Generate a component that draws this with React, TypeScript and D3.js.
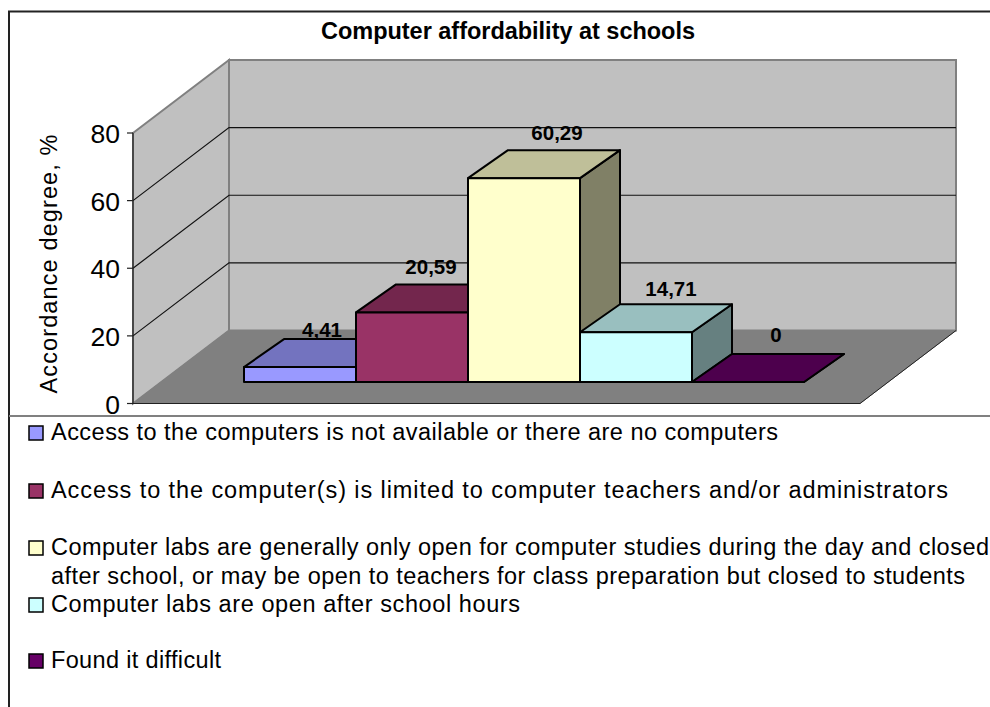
import React from "react";
import * as d3 from "d3";

const title = "Computer affordability at schools";
const axisTitle = "Accordance degree, %";
const values = [4.41, 20.59, 60.29, 14.71, 0];
const valueLabels = ["4,41", "20,59", "60,29", "14,71", "0"];
const yTicks = [0, 20, 40, 60, 80];
const fronts = ["#9999ff", "#993366", "#ffffcc", "#ccffff", "#660066"];
const tops = ["#7373bf", "#73264d", "#bfbf99", "#99bfbf", "#4d004d"];
const sides = ["#666699", "#662244", "#808066", "#668080", "#330033"];
const categories = ["a", "b", "c", "d", "e"];
const legendLines = [
  { text: "Access to the computers is not available or there are no computers", y: 440, w: 727, sw: 0 },
  { text: "Access to the computer(s) is limited to computer teachers and/or administrators", y: 498, w: 897, sw: 1 },
  { text: "Computer labs are generally only open for computer studies during the day and closed", y: 555, w: 938, sw: 2 },
  { text: "after school, or may be open to teachers for class preparation but closed to students", y: 584, w: 914, sw: -1 },
  { text: "Computer labs are open after school hours", y: 612, w: 469, sw: 3 },
  { text: "Found it difficult", y: 668, w: 170, sw: 4 },
];
const labelDx = [22, 19, 33, 35, 28];
const labelDy = [-2, -10, -10, -8, -12];

const font = "'Liberation Sans', Arial, sans-serif";
const y = d3.scaleLinear().domain([0, 80]).range([403.5, 133]);
const x = d3.scaleBand().domain(categories).range([244, 804]).paddingInner(0).paddingOuter(0);
const wallDx = 96, wallDy = -73, wallW = 727;
const barDx = 40, barDy = -28;
const barBase = 382;
const pts = (p: number[][]) => d3.line()(p as [number, number][]) + "Z";

export default function App() {
  const left = 133;
  return (
    <svg width={990} height={707} style={{ position: "absolute", left: 0, top: 0, background: "#fff" }} fontFamily={font}>
      <rect x={9} y={11.5} width={990} height={720} fill="#fff" stroke="#222" strokeWidth={2} />
      <text x={508} y={39} textAnchor="middle" fontWeight="bold" fontSize={23.5} fill="#000" textLength={374} lengthAdjust="spacing">{title}</text>

      {/* walls */}
      <path d={pts([[left, y(80)], [left + wallDx, y(80) + wallDy], [left + wallDx, y(0) + wallDy], [left, y(0)]])} fill="#c0c0c0" stroke="#808080" strokeWidth={2} />
      <path d={pts([[left + wallDx, y(80) + wallDy], [left + wallDx + wallW, y(80) + wallDy], [left + wallDx + wallW, y(0) + wallDy], [left + wallDx, y(0) + wallDy]])} fill="#c0c0c0" stroke="#808080" strokeWidth={2} />
      <path d={pts([[left, y(0)], [left + wallDx, y(0) + wallDy], [left + wallDx + wallW, y(0) + wallDy], [left + wallW, y(0)]])} fill="#808080" stroke="#808080" strokeWidth={1} />
      <polyline fill="none" stroke="#222" strokeWidth={1}
        points={`${left},${y(0)} ${left + wallW},${y(0)} ${left + wallW + wallDx},${y(0) + wallDy}`} />

      {/* gridlines */}
      {yTicks.filter((t) => t > 0 && t < 80).map((t) => (
        <polyline key={t} fill="none" stroke="#111" strokeWidth={1.2}
          points={`${left},${y(t)} ${left + wallDx},${y(t) + wallDy} ${left + wallDx + wallW},${y(t) + wallDy}`} />
      ))}

      {/* axis */}
      <line x1={left} x2={left} y1={y(80)} y2={y(0)} stroke="#222" strokeWidth={1.2} />
      {yTicks.map((t) => (
        <g key={t}>
          <line x1={left - 6} x2={left} y1={y(t)} y2={y(t)} stroke="#222" strokeWidth={1.2} />
          <text x={left - 13} y={y(t) + 10} textAnchor="end" fontSize={26.5} fill="#000">{t}</text>
        </g>
      ))}
      <text transform="translate(56.5,264) rotate(-90)" textAnchor="middle" fontSize={23.5} fill="#000" textLength={259} lengthAdjust="spacing">{axisTitle}</text>

      {/* bars */}
      {values.map((v, i) => {
        const xl = x(categories[i]) as number;
        const xr = xl + x.bandwidth();
        const h = y(0) - y(v);
        const yt = barBase - h;
        return (
          <g key={i} stroke="#000" strokeWidth={2} strokeLinejoin="round">
            <path d={pts([[xr, yt], [xr + barDx, yt + barDy], [xr + barDx, barBase + barDy], [xr, barBase]])} fill={sides[i]} />
            <path d={pts([[xl, yt], [xl + barDx, yt + barDy], [xr + barDx, yt + barDy], [xr, yt]])} fill={tops[i]} />
            {h > 0 && <rect x={xl} y={yt} width={x.bandwidth()} height={h} fill={fronts[i]} />}
          </g>
        );
      })}
      {values.map((v, i) => {
        const xl = x(categories[i]) as number;
        const yt = barBase - (y(0) - y(v));
        return (
          <text key={i} x={xl + x.bandwidth() / 2 + labelDx[i]} y={yt + barDy + labelDy[i]} textAnchor="middle" fontWeight="bold" fontSize={20.5} fill="#000">{valueLabels[i]}</text>
        );
      })}

      {/* legend */}
      <line x1={9} x2={990} y1={416} y2={416} stroke="#808080" strokeWidth={2} />
      {legendLines.map((l) => (
        <g key={l.text}>
          {l.sw >= 0 && <rect x={29} y={l.y - 14} width={14} height={14} fill={fronts[l.sw]} stroke="#000" strokeWidth={1.5} />}
          <text x={51} y={l.y} fontSize={23.5} fill="#000" textLength={l.w} lengthAdjust="spacing">{l.text}</text>
        </g>
      ))}
    </svg>
  );
}
